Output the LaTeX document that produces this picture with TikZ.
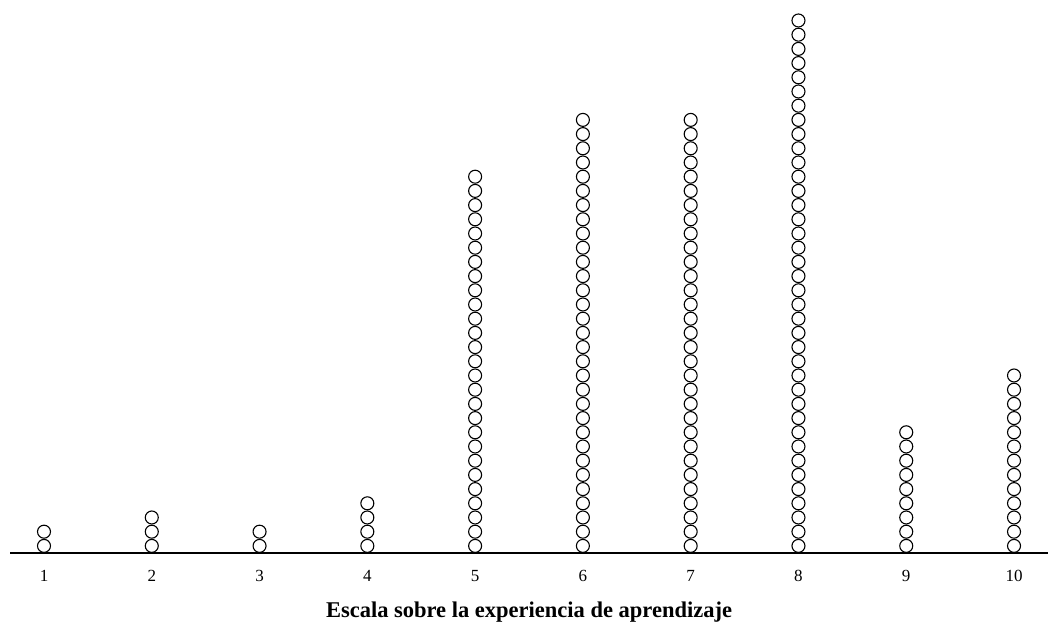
\documentclass[tikz,border=0pt]{standalone}
\usepackage{fontspec}
\setmainfont{Liberation Serif}
\begin{document}
\begin{tikzpicture}[x=1pt, y=1pt]
  \useasboundingbox (0, 0) rectangle (1058, 628);

  \draw[line width=1.2pt] (10, 75) -- (1048, 75);

  \foreach \v/\n in {1/2, 2/3, 3/2, 4/4, 5/27, 6/31, 7/31, 8/38, 9/9, 10/13} {
    \foreach \k in {1, ..., \n}
      \draw[line width=1.1pt] ({44 + (\v - 1) * 107.78}, {82.1 + (\k - 1) * 14.2}) circle (6.5);
    \node[font=\fontsize{17}{20}\selectfont] (tick\v) at ({44 + (\v - 1) * 107.78}, 52) {\v};
  }

  \node[font=\fontsize{22.5}{26}\selectfont\bfseries] (title) at (529, 16) {Escala sobre la experiencia de aprendizaje};
\end{tikzpicture}
\end{document}
